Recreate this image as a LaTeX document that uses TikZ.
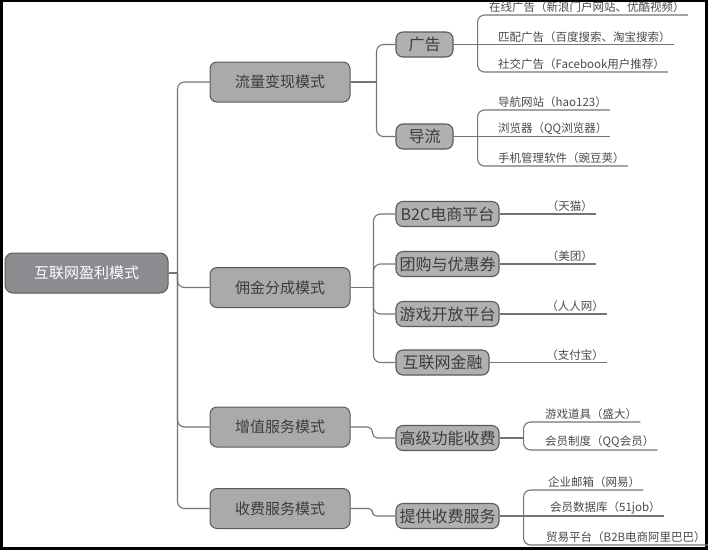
\documentclass[tikz,border=0pt]{standalone}
\usepackage{fontspec}
\setmainfont{Noto Sans CJK SC}
\definecolor{rootgray}{HTML}{8C8C90}
\definecolor{modegray}{HTML}{AAAAAC}
\definecolor{subgray}{HTML}{B0B0B0}
\definecolor{edgegray}{HTML}{5A5A5A}
\definecolor{linegray}{HTML}{747474}
\definecolor{txtgray}{HTML}{3C3C3C}
\definecolor{leafgray}{HTML}{4A4A4A}
\begin{document}
\begin{tikzpicture}[x=1pt, y=-1pt,
  root/.style={draw=edgegray, line width=1pt, fill=rootgray, rounded corners=8pt, minimum width=163pt, minimum height=40pt, text=white, font=\fontsize{15}{18}\selectfont},
  mode/.style={draw=edgegray, line width=1pt, fill=modegray, rounded corners=7pt, minimum width=140pt, minimum height=40pt, text=txtgray, font=\fontsize{15}{18}\selectfont},
  sub/.style={draw=edgegray, line width=1.1pt, fill=subgray, rounded corners=7pt, minimum height=25pt, inner xsep=3pt, text=txtgray, font=\fontsize{16}{18}\selectfont},
  leaf/.style={inner xsep=3pt, inner ysep=2pt, text=leafgray, font=\fontsize{11.5}{13}\selectfont},
  link/.style={draw=linegray, line width=1.1pt, rounded corners=7pt}]
\fill[black] (0,0) rectangle (708,550);
\fill[white] (3,1.5) rectangle (705,547);
\useasboundingbox (0,0) rectangle (708,550);
\node[root] (m0) at (86.5,273){互联网盈利模式};
\node[mode] (m1) at (280,82){流量变现模式};
\node[mode] (m2) at (280,287.5){佣金分成模式};
\node[mode] (m3) at (280,427){增值服务模式};
\node[mode] (m4) at (280,508.5){收费服务模式};
\draw[link](m0.east) -- ++(9,0) coordinate (j0);
\draw[link](j0) |- (m1.west);
\draw[link](j0) |- (m2.west);
\draw[link](j0) |- (m3.west);
\draw[link](j0) |- (m4.west);
\node[sub, minimum width=57pt] (s1) at (424.5,44.5){广告};
\node[sub, minimum width=57pt] (s2) at (424.5,136.5){导流};
\draw[link](m1.east) -- ++(26,0) coordinate (j1);
\draw[link](j1) |- (s1.west);
\draw[link](j1) |- (s2.west);
\node[leaf, anchor=south west] (t11) at (486,15){在线广告（新浪门户网站、优酷视频）};
\node[leaf, anchor=south west] (t12) at (495,44.5){匹配广告（百度搜索、淘宝搜索）};
\node[leaf, anchor=south west] (t13) at (495,72){社交广告（Facebook用户推荐）};
\draw[link](s1.east) -- ++(24,0) coordinate (j11) -- (t12.south east);
\draw[link](j11) |- (t11.south east);
\draw[link](j11) |- (t13.south east);
\node[leaf, anchor=south west] (t21) at (495,110){导航网站（hao123）};
\node[leaf, anchor=south west] (t22) at (495,136.5){浏览器（QQ浏览器）};
\node[leaf, anchor=south west] (t23) at (495,166){手机管理软件（豌豆荚）};
\draw[link](s2.east) -- ++(24,0) coordinate (j12) -- (t22.south east);
\draw[link](j12) |- (t21.south east);
\draw[link](j12) |- (t23.south east);
\node[sub, minimum width=103pt] (s3) at (447.5,214){B2C电商平台};
\node[sub, minimum width=103pt] (s4) at (447.5,264){团购与优惠券};
\node[sub, minimum width=103pt] (s5) at (447.5,314){游戏开放平台};
\node[sub, minimum width=93pt] (s6) at (442.5,362.5){互联网金融};
\draw[link](m2.east) -- ++(23,0) coordinate (j2);
\draw[link](j2) |- (s3.west);
\draw[link](j2) |- (s4.west);
\draw[link](j2) |- (s5.west);
\draw[link](j2) |- (s6.west);
\node[leaf, anchor=south east] (t31) at (596,214){（天猫）};
\node[leaf, anchor=south east] (t41) at (596,264){（美团）};
\node[leaf, anchor=south east] (t51) at (607,314){（人人网）};
\node[leaf, anchor=south east] (t61) at (607,362.5){（支付宝）};
\draw[link](s3.east) -- (t31.south east);
\draw[link](s4.east) -- (t41.south east);
\draw[link](s5.east) -- (t51.south east);
\draw[link](s6.east) -- (t61.south east);
\node[sub, minimum width=103pt] (s7) at (447.5,438){高级功能收费};
\draw[link, rounded corners=5pt](m3.east) -- ++(22,0) |- (s7.west);
\node[leaf, anchor=south west] (t71) at (542,422){游戏道具（盛大）};
\node[leaf, anchor=south west] (t72) at (542,450){会员制度（QQ会员）};
\draw[link](s7.east) -- ++(24,0) coordinate (j7);
\draw[link](j7) |- (t71.south east);
\draw[link](j7) |- (t72.south east);
\node[sub, minimum width=103pt] (s8) at (447.5,516){提供收费服务};
\draw[link, rounded corners=4pt](m4.east) -- ++(22,0) |- (s8.west);
\node[leaf, anchor=south west] (t81) at (545,490){企业邮箱（网易）};
\node[leaf, anchor=south west] (t82) at (547,516){会员数据库（51job）};
\node[leaf, anchor=south west, inner xsep=2pt] (t83) at (544,545){贸易平台（B2B电商阿里巴巴）};
\draw[link](s8.east) -- ++(24,0) coordinate (j8) -- (t82.south east);
\draw[link](j8) |- (t81.south east);
\draw[link](j8) |- (t83.south east);
\end{tikzpicture}
\end{document}
